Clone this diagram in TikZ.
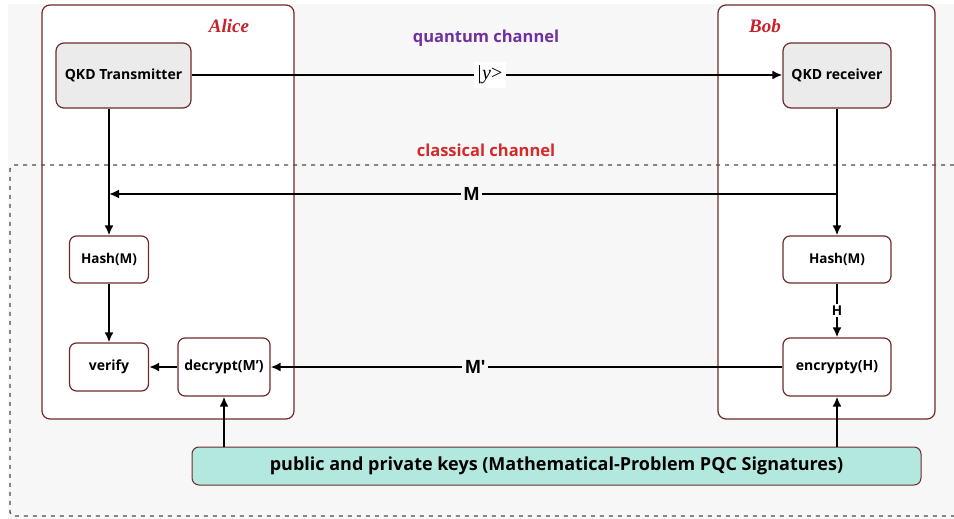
\documentclass[tikz,border=0pt]{standalone}
\usepackage{fontspec}
\setmainfont{Open Sans}
\newfontfamily\partyfont{Liberation Serif}
\newfontfamily\arialfont{Liberation Sans}
\usetikzlibrary{arrows.meta}
\definecolor{bgGray}{HTML}{F7F7F7}
\definecolor{edgeRed}{HTML}{6E2B2B}
\definecolor{boxGray}{HTML}{EBEBEB}
\definecolor{keyTeal}{HTML}{B3E8DF}
\definecolor{qPurple}{HTML}{7030A0}
\definecolor{cRed}{HTML}{D42A2A}
\definecolor{nameRed}{HTML}{C8202A}
\newcommand{\sq}{{\char"27}}
\tikzset{
  party/.style={draw=edgeRed, line width=1.2pt, fill=white, rounded corners=8pt, inner sep=0pt},
  qkdbox/.style={draw=edgeRed, line width=1.2pt, fill=boxGray, rounded corners=8pt, inner sep=0pt,
    font=\bfseries\fontsize{14}{16}\selectfont},
  opbox/.style={draw=edgeRed, line width=1.2pt, fill=white, rounded corners=7pt, inner sep=0pt,
    font=\bfseries\fontsize{14}{16}\selectfont},
  keybox/.style={draw=edgeRed, line width=1pt, fill=keyTeal, rounded corners=7pt, inner sep=0pt,
    font=\bfseries\fontsize{18}{21}\selectfont},
  arr/.style={line width=2pt, -{Latex[length=10pt,width=9pt]}},
  wire/.style={line width=2pt},
  msg/.style={fill=bgGray, inner sep=3pt, font=\arialfont\bfseries\fontsize{19}{21}\selectfont},
  chan/.style={font=\bfseries\fontsize{16.5}{19}\selectfont},
  who/.style={font=\partyfont\bfseries\itshape\fontsize{19}{21}\selectfont, text=nameRed}
}
\begin{document}
\begin{tikzpicture}[x=1pt,y=-1pt]
\useasboundingbox (0,0) rectangle (954,519);
% canvas
\fill[bgGray] (8,4) rectangle (954,519);

% parties
\node[party, minimum width=252pt, minimum height=414pt] (alice) at (168,212) {};
\node[party, minimum width=217pt, minimum height=414pt] (bob) at (826.5,212) {};
\node[who] (aliceName) at (229,26) {Alice};
\node[who] (bobName) at (765,26) {Bob};

% classical region boundary
\draw[black!70, line width=1.4pt, dash pattern=on 4pt off 5pt, rounded corners=4pt]
  (954,165) -- (10,165) -- (10,516) -- (954,516);

% channel titles
\node[chan, text=qPurple] (qtitle) at (486,38) {quantum channel};
\node[chan, text=cRed] (ctitle) at (486,150) {classical channel};

% QKD devices
\node[qkdbox, minimum width=135pt, minimum height=65pt] (tx) at (123.5,75.5) {QKD Transmitter};
\node[qkdbox, minimum width=108pt, minimum height=65pt] (rx) at (837,75.5) {QKD receiver};

% Alice operations
\node[opbox, minimum width=79pt, minimum height=47pt, font=\bfseries\fontsize{13.5}{16}\selectfont] (hashA) at (109,259.5) {Hash(M)};
\node[opbox, minimum width=79pt, minimum height=48pt] (verify) at (109,367) {verify};
\node[opbox, minimum width=92pt, minimum height=58pt] (decrypt) at (224,367) {decrypt(M\sq)};

% Bob operations
\node[opbox, minimum width=108pt, minimum height=47pt, font=\bfseries\fontsize{13.5}{16}\selectfont] (hashB) at (837,259.5) {Hash(M)};
\node[opbox, minimum width=108pt, minimum height=58pt] (enc) at (837,367) {encrypty(H)};

% key material
\node[keybox, minimum width=729pt, minimum height=38pt] (keys) at (556.5,466)
  {public and private keys (Mathematical-Problem PQC Signatures)};

% quantum link
\coordinate (qL) at (191,75);
\coordinate (qR) at (783,75);
\draw[arr] (tx.east |- qL) -- node[fill=white, inner sep=4pt, font=\partyfont\fontsize{20}{22}\selectfont, pos=0.505]
  {|\kern0.5pt\textit{y}>} (rx.west |- qR);

% message M over the classical channel
\coordinate (mR) at (837,194);
\coordinate (mL) at (109,194);
\draw[wire] (tx.south -| hashA.north) -- (mL);
\draw[arr] (mL) -- (hashA.north);
\draw[arr] (rx.south) -- (hashB.north);
\draw[arr] (mR) -- node[msg, pos=0.502] {M} (mL);

% Alice side flow
\draw[arr] (hashA.south) -- (verify.north);
\draw[arr] (decrypt.west) -- (verify.east);

% Bob side flow
\draw[arr] (hashB.south) -- node[fill=white, inner sep=2pt, font=\bfseries\fontsize{13.5}{15}\selectfont] {H} (enc.north);
\draw[arr] (enc.west) -- node[msg, pos=0.6] {M\sq} (decrypt.east);

% keys feed both ends
\draw[arr] (keys.north -| decrypt.south) -- (decrypt.south);
\draw[arr] (keys.north -| enc.south) -- (enc.south);
\end{tikzpicture}
\end{document}
